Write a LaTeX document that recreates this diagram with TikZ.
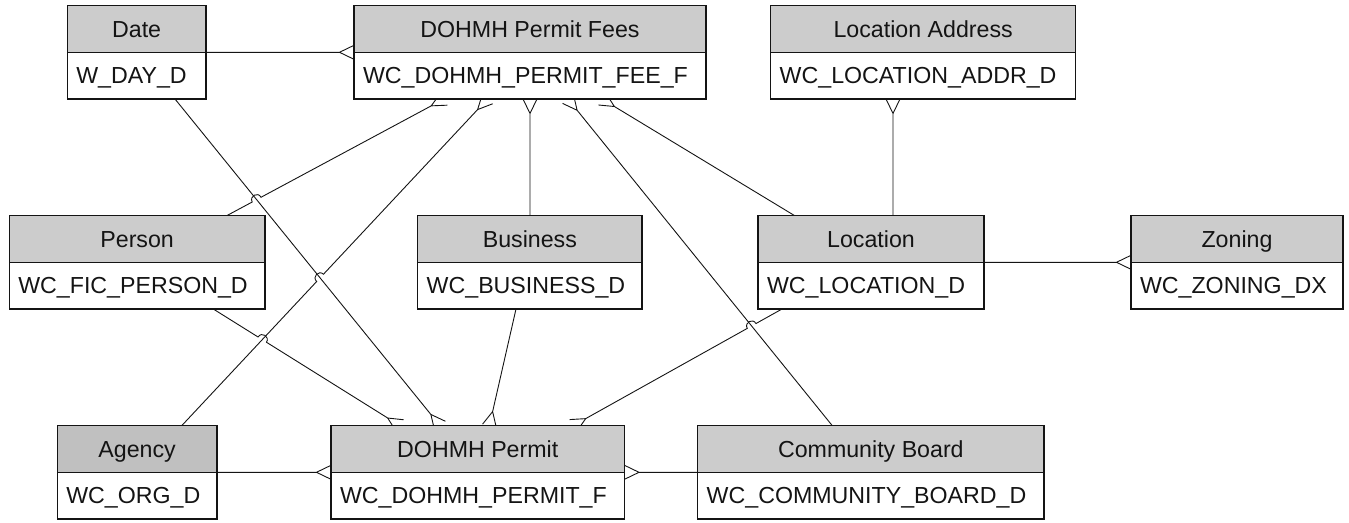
\documentclass[tikz,border=0pt]{standalone}
\usepackage{fontspec}
\setmainfont{Liberation Sans}
\usetikzlibrary{calc,intersections}
\pgfdeclarelayer{bg}
\pgfsetlayers{bg,main}
\definecolor{hdrgray}{RGB}{204,204,204}
\definecolor{aggray}{RGB}{192,192,192}
\definecolor{inkc}{RGB}{20,20,20}
\tikzset{
  erfont/.style={font=\fontsize{23.2}{28}\selectfont, text=inkc},
  hdr/.style={draw=inkc, line width=1.5pt, fill=hdrgray, minimum height=46.6pt,
    inner sep=0pt, outer sep=0pt, anchor=north west, text height=16.6pt, text depth=0pt, erfont},
  bdy/.style={draw=inkc, line width=1.5pt, fill=white, minimum height=46.7pt,
    inner ysep=0pt, inner xsep=9pt, outer sep=0pt, anchor=north west, align=left,
    text height=16.6pt, text depth=0pt, erfont},
  conn/.style={draw=inkc, line width=0.9pt},
  crow/.style={to path={let \p1=(\tikztostart), \p2=(\tikztotarget),
      \n1={atan2(\y1-\y2,\x1-\x2)} in
      (\tikztostart) -- ($(\tikztotarget)+(\n1:14.5pt)$) -- ($(\tikztotarget)+(\n1+90:7pt)$)
      ($(\tikztotarget)+(\n1:14.5pt)$) -- ($(\tikztotarget)+(\n1-90:7pt)$)}}
}
\newcommand\erent[7][]{%
  \node[hdr,minimum width=#5pt,#1] (#2h) at (#3,-#4) {#6};
  \pgfmathsetlengthmacro\erwidth{#5-18}%
  \node[bdy,text width=\erwidth] (#2b) at (#2h.south west) {#7};
}
\begin{document}
\begin{tikzpicture}[x=1pt,y=1pt]
\useasboundingbox (0,0) rectangle (1349,-522);
% entities
\erent{date}{67.3}{5.7}{138.7}{Date}{W\_DAY\_D}
\erent{fees}{354}{5.7}{352}{DOHMH Permit Fees}{WC\_DOHMH\_PERMIT\_FEE\_F}
\erent{addr}{770.7}{5.7}{305}{Location Address}{WC\_LOCATION\_ADDR\_D}
\erent{person}{9.3}{215.7}{255.7}{Person}{WC\_FIC\_PERSON\_D}
\erent{bus}{417.7}{215.7}{224.3}{Business}{WC\_BUSINESS\_D}
\erent{loc}{758}{215.7}{226}{Location}{WC\_LOCATION\_D}
\erent{zon}{1131}{215.7}{212}{Zoning}{WC\_ZONING\_DX}
\erent[fill=aggray]{ag}{57.3}{425.7}{159.7}{Agency}{WC\_ORG\_D}
\erent{perm}{331}{425.7}{293.5}{DOHMH Permit}{WC\_DOHMH\_PERMIT\_F}
\erent{cb}{697.7}{425.7}{346.3}{Community Board}{WC\_COMMUNITY\_BOARD\_D}
% connector end points
\coordinate (s1) at ($(dateb.south west)+(107.7,0)$);
\coordinate (e1) at ($(permh.north west)+(109,0)$);
\coordinate (s2) at ($(personh.north west)+(217.4,0)$);
\coordinate (e2) at ($(feesb.south west)+(90,0)$);
\coordinate (s3) at ($(agh.north west)+(124.4,0)$);
\coordinate (e3) at ($(feesb.south west)+(133.5,0)$);
\coordinate (s4) at ($(personb.south west)+(204,0)$);
\coordinate (e4) at ($(permh.north west)+(69,0)$);
\coordinate (s5) at ($(bush.north west)+(112.3,0)$);
\coordinate (e5) at ($(feesb.south west)+(176,0)$);
\coordinate (s6) at ($(busb.south west)+(98.3,0)$);
\coordinate (e6) at ($(permh.north west)+(158.4,0)$);
\coordinate (s7) at ($(cbh.north west)+(134.6,0)$);
\coordinate (e7) at ($(feesb.south west)+(214,0)$);
\coordinate (s8) at ($(loch.north west)+(36.7,0)$);
\coordinate (e8) at ($(feesb.south west)+(248,0)$);
\coordinate (s9) at ($(loch.north west)+(135,0)$);
\coordinate (e9) at ($(addrb.south west)+(122.3,0)$);
\coordinate (s11) at ($(locb.south west)+(24,0)$);
\coordinate (e11) at ($(permh.north west)+(242,0)$);
% crossings
\path[name path=L1] (s1) -- (e1);
\path[name path=L2] (s2) -- (e2);
\path[name path=L3] (s3) -- (e3);
\path[name path=L4] (s4) -- (e4);
\path[name path=L7] (s7) -- (e7);
\path[name path=L11] (s11) -- (e11);
\path[name intersections={of=L1 and L2, by=x12}];
\path[name intersections={of=L1 and L3, by=x13}];
\path[name intersections={of=L3 and L4, by=x34}];
\path[name intersections={of=L7 and L11, by=x711}];
\begin{pgfonlayer}{bg}
% straight connectors
\draw[conn] (s1) to[crow] (e1);
\draw[conn] (s5) to[crow] (e5);
\draw[conn] (s6) to[crow] (e6);
\draw[conn] (s7) to[crow] (e7);
\draw[conn] (s8) to[crow] (e8);
\draw[conn] (s9) to[crow] (e9);
\draw[conn] (locb.north east) to[crow] (zonb.north west);
\draw[conn] (agb.north east) to[crow] (permb.north west);
\draw[conn] (cbb.north west) to[crow] (permb.north east);
\draw[conn] (dateb.north east) to[crow] (feesb.north west);
% Person -> Fees, hops over Date -> Permit
\draw[conn] let \p1=(s2), \p2=(e2), \n1={atan2(\y1-\y2,\x1-\x2)}, \n2={\n1-90} in
  (s2) -- ($(x12)+(\n1:5pt)$)
  .. controls ($(x12)+(\n1:5pt)+(\n2:6.7pt)$) and ($(x12)+(\n1+180:5pt)+(\n2:6.7pt)$) .. ($(x12)+(\n1+180:5pt)$)
  -- ($(e2)+(\n1:14.5pt)$) -- ($(e2)+(\n1+90:7pt)$)
  ($(e2)+(\n1:14.5pt)$) -- ($(e2)+(\n1-90:7pt)$);
% Agency -> Fees, hops over Date -> Permit
\draw[conn] let \p1=(s3), \p2=(e3), \n1={atan2(\y1-\y2,\x1-\x2)}, \n2={\n1-90} in
  (s3) -- ($(x13)+(\n1:5pt)$)
  .. controls ($(x13)+(\n1:5pt)+(\n2:6.7pt)$) and ($(x13)+(\n1+180:5pt)+(\n2:6.7pt)$) .. ($(x13)+(\n1+180:5pt)$)
  -- ($(e3)+(\n1:14.5pt)$) -- ($(e3)+(\n1+90:7pt)$)
  ($(e3)+(\n1:14.5pt)$) -- ($(e3)+(\n1-90:7pt)$);
% Person -> Permit, hops over Agency -> Fees
\draw[conn] let \p1=(s4), \p2=(e4), \n1={atan2(\y1-\y2,\x1-\x2)}, \n2={\n1-90} in
  (s4) -- ($(x34)+(\n1:5pt)$)
  .. controls ($(x34)+(\n1:5pt)+(\n2:6.7pt)$) and ($(x34)+(\n1+180:5pt)+(\n2:6.7pt)$) .. ($(x34)+(\n1+180:5pt)$)
  -- ($(e4)+(\n1:14.5pt)$) -- ($(e4)+(\n1+90:7pt)$)
  ($(e4)+(\n1:14.5pt)$) -- ($(e4)+(\n1-90:7pt)$);
% Location -> Permit, hops over Community Board -> Fees
\draw[conn] let \p1=(s11), \p2=(e11), \n1={atan2(\y1-\y2,\x1-\x2)}, \n2={\n1+90} in
  (s11) -- ($(x711)+(\n1:5pt)$)
  .. controls ($(x711)+(\n1:5pt)+(\n2:6.7pt)$) and ($(x711)+(\n1+180:5pt)+(\n2:6.7pt)$) .. ($(x711)+(\n1+180:5pt)$)
  -- ($(e11)+(\n1:14.5pt)$) -- ($(e11)+(\n1+90:7pt)$)
  ($(e11)+(\n1:14.5pt)$) -- ($(e11)+(\n1-90:7pt)$);
\end{pgfonlayer}
\end{tikzpicture}
\end{document}
